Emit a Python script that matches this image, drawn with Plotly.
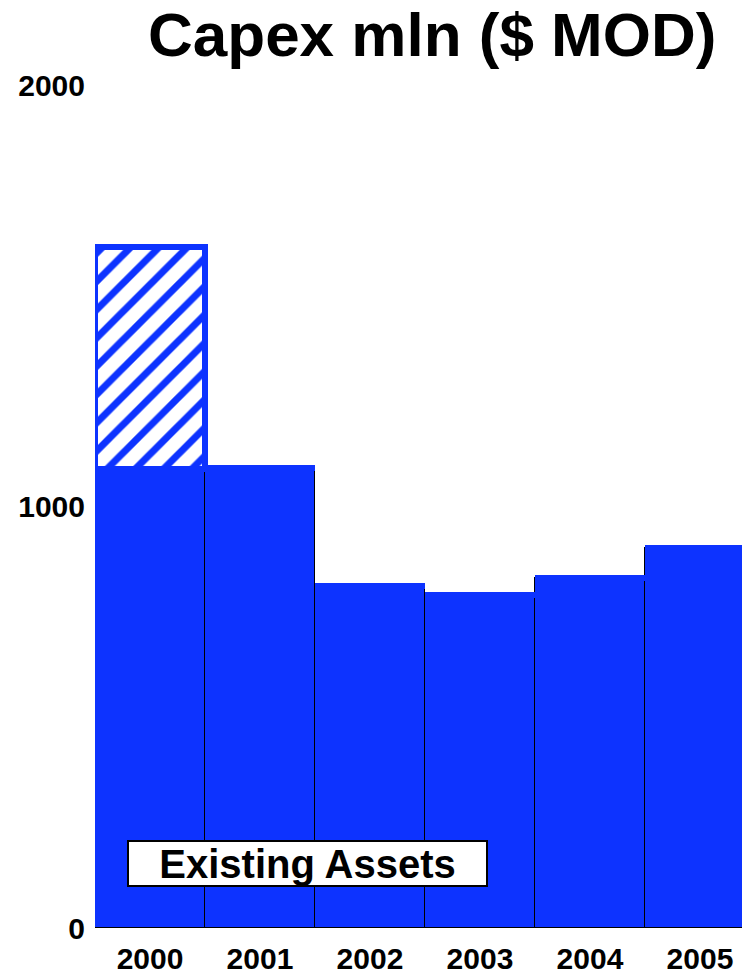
import plotly.graph_objects as go

years = ["2000", "2001", "2002", "2003", "2004", "2005"]
existing_assets = [1088, 1091, 811, 790, 830, 902]
additional = [527, 0, 0, 0, 0, 0]
y_ticks = [0, 1000, 2000]

BLUE = "#0D33FF"
FONT = "Liberation Sans, Arial, sans-serif"

fig = go.Figure()
fig.add_trace(go.Bar(
    x=years, y=existing_assets,
    marker=dict(color=BLUE, line=dict(color="black", width=1)),
    showlegend=False,
))
fig.add_trace(go.Bar(
    x=years, y=additional,
    marker=dict(color="white", line=dict(color=BLUE, width=6),
                pattern=dict(shape="/", fgcolor=BLUE, bgcolor="white", fgopacity=1,
                             size=20, solidity=0.35, fillmode="replace")),
    showlegend=False,
))

fig.update_layout(
    width=742, height=978,
    margin=dict(l=95, r=0, t=85, b=50),
    barmode="stack", bargap=0,
    plot_bgcolor="white", paper_bgcolor="white",
    font=dict(family=FONT, size=30, color="black", weight=700),
    xaxis=dict(range=[-0.5, 5.382], showline=False, showgrid=False, zeroline=False,
               ticks="", ticklabelstandoff=10,
               tickfont=dict(family=FONT, size=30, weight=700)),
    yaxis=dict(range=[0, 2000], showline=False, showgrid=False, zeroline=False,
               tickvals=y_ticks, ticktext=[str(v) for v in y_ticks],
               ticks="", ticklabelstandoff=9,
               tickfont=dict(family=FONT, size=30, weight=700)),
    annotations=[
        dict(text="Capex mln ($ MOD)", xref="paper", yref="paper",
             x=(432 - 95) / 647, y=(928 - 35) / 843, xanchor="center", yanchor="middle",
             showarrow=False, font=dict(family=FONT, size=62, weight=700, color="black")),
        dict(text="Existing Assets", xref="paper", yref="paper",
             x=(307.5 - 95) / 647, y=(928 - 863.5) / 843, xanchor="center", yanchor="middle",
             showarrow=False, width=357, height=43, bgcolor="white",
             bordercolor="black", borderwidth=2, borderpad=0,
             font=dict(family=FONT, size=40, weight=700, color="black")),
    ],
)

fig.write_html("out.html")
